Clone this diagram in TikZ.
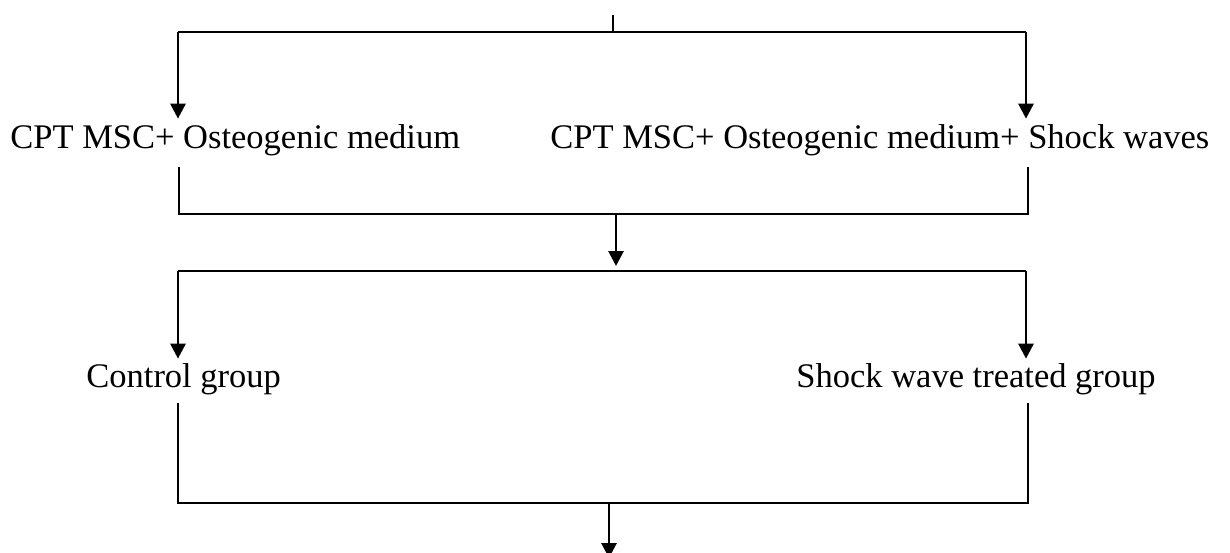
\documentclass[tikz,border=0pt]{standalone}
\usepackage{fontspec}
\setmainfont{Liberation Serif}
\usetikzlibrary{arrows.meta}

\tikzset{
  grouplabel/.style={anchor=base west,inner sep=0pt,font=\fontsize{17.25pt}{20pt}\selectfont},
  flowline/.style={line width=1pt},
  flowarrow/.style={line width=1.4pt,-{Triangle[length=7.5pt,width=7.5pt]}}
}

\begin{document}
\begin{tikzpicture}[x=0.5pt,y=-0.5pt]
\useasboundingbox (0,0) rectangle (1230,552);
% labels
\node[grouplabel] (medium) at (10,148) {CPT MSC+ Osteogenic medium};
\node[grouplabel] (shock) at (550,148) {CPT MSC+ Osteogenic medium+ Shock waves};
\node[grouplabel] (control) at (86,387) {Control group};
\node[grouplabel] (treated) at (796,387) {Shock wave treated group};
% corners
\coordinate (start) at (613,15);
\coordinate (splitA) at (613,32);
\coordinate (leftA) at (178,32);
\coordinate (rightA) at (1026,32);
\coordinate (leftB) at (179,214);
\coordinate (rightB) at (1028,214);
\coordinate (mergeB) at (616,214);
\coordinate (leftC) at (178,271);
\coordinate (rightC) at (1026,271);
\coordinate (leftD) at (178,503);
\coordinate (rightD) at (1028,503);
\coordinate (mergeD) at (609,503);
\coordinate (finish) at (609,558);
% split
\draw[flowline] (start) -- (splitA);
\draw[flowline] (leftA) -- (rightA);
\draw[flowarrow,shorten >=2.5pt] (leftA) -- (leftA |- medium.north);
\draw[flowarrow,shorten >=2.5pt] (rightA) -- (rightA |- shock.north);
% merge
\draw[flowline,shorten <=5.5pt,shorten >=5.5pt] (medium.south -| leftB) -- (leftB) -- (rightB) -- (shock.south -| rightB);
\draw[flowarrow,shorten >=2.5pt] (mergeB) -- (mergeB |- leftC);
% groups
\draw[flowline] (leftC) -- (rightC);
\draw[flowarrow,shorten >=2pt] (leftC) -- (leftC |- control.north);
\draw[flowarrow,shorten >=2pt] (rightC) -- (rightC |- treated.north);
\draw[flowline,shorten <=4.25pt,shorten >=4.25pt] (control.south -| leftD) -- (leftD) -- (rightD) -- (treated.south -| rightD);
\draw[flowarrow] (mergeD) -- (finish);
\end{tikzpicture}
\end{document}
